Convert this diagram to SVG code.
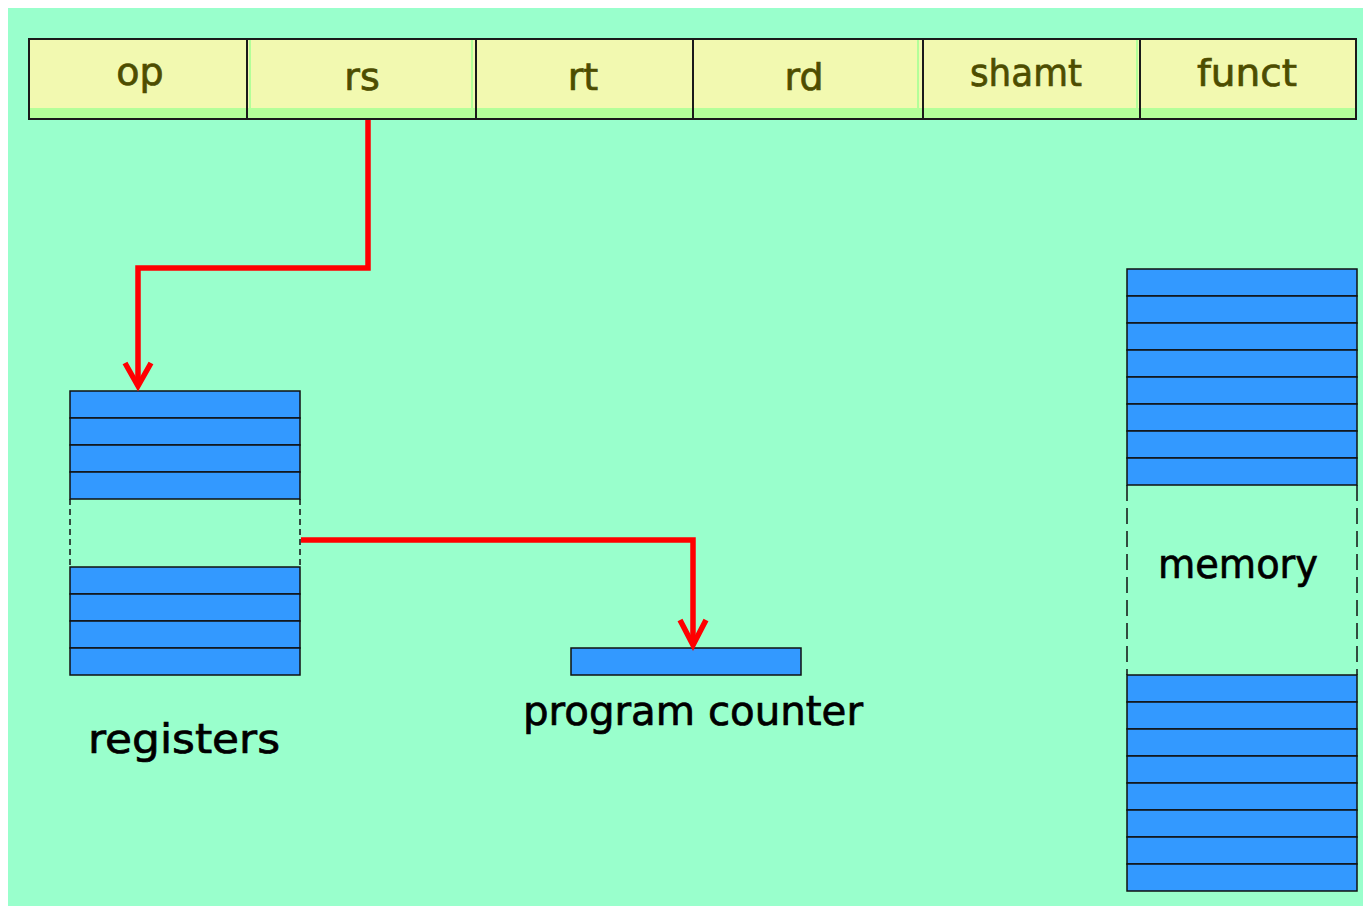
<svg xmlns="http://www.w3.org/2000/svg" width="1363" height="907" viewBox="0 0 1363 907">
<style>
.cell{fill:#F2F9B0;stroke:none}
.band{fill:#B3FF99;stroke:none}
.edge{fill:none;stroke:#1a1a1a;stroke-width:2}
.ftxt{font-family:"DejaVu Sans","Liberation Sans",sans-serif;font-size:38px;fill:#4D4D00;stroke:#4D4D00;stroke-width:0.7}
.mid{text-anchor:middle}
.lbl{font-family:"DejaVu Sans","Liberation Sans",sans-serif;font-size:40px;fill:#000;stroke:#000;stroke-width:0.7}
.reg{fill:#3399FF;stroke:#111;stroke-width:1.5}
.dash{fill:none;stroke:#111;stroke-width:1.5;stroke-dasharray:6 4}
.dashm{fill:none;stroke:#111;stroke-width:1.5;stroke-dasharray:16 7}
.wire{fill:none;stroke:#FF0000;stroke-width:5.5;stroke-linejoin:miter}
</style>
<rect x="0" y="0" width="1363" height="907" fill="#FFFFFF"/>
<rect x="8" y="8" width="1355" height="898" fill="#99FFCC"/>

<g id="fields">
  <g id="field-op">
    <rect class="cell" x="29" y="39" width="218" height="80"/>
    <rect class="band" x="29" y="108" width="218" height="11"/>
    <text class="ftxt mid" x="140" y="85">op</text>
  </g>
  <g id="field-rs">
    <rect class="cell" x="247" y="39" width="229" height="80"/>
    <rect class="band" x="247" y="108" width="229" height="11"/>
    <line x1="250" y1="40" x2="250" y2="108" stroke="#B3FF99" stroke-width="2"/>
    <line x1="472" y1="40" x2="472" y2="108" stroke="#B3FF99" stroke-width="2"/>
    <text class="ftxt mid" x="362" y="90">rs</text>
  </g>
  <g id="field-rt">
    <rect class="cell" x="476" y="39" width="217" height="80"/>
    <rect class="band" x="476" y="108" width="217" height="11"/>
    <text class="ftxt mid" x="583" y="90">rt</text>
  </g>
  <g id="field-rd">
    <rect class="cell" x="693" y="39" width="230" height="80"/>
    <rect class="band" x="693" y="108" width="230" height="11"/>
    <line x1="918" y1="40" x2="918" y2="108" stroke="#B3FF99" stroke-width="2"/>
    <text class="ftxt mid" x="804" y="90">rd</text>
  </g>
  <g id="field-shamt">
    <rect class="cell" x="923" y="39" width="217" height="80"/>
    <rect class="band" x="923" y="108" width="217" height="11"/>
    <line x1="1137" y1="40" x2="1137" y2="108" stroke="#B3FF99" stroke-width="2"/>
    <text class="ftxt" x="970" y="86" textLength="112" lengthAdjust="spacingAndGlyphs">shamt</text>
  </g>
  <g id="field-funct">
    <rect class="cell" x="1140" y="39" width="216" height="80"/>
    <rect class="band" x="1140" y="108" width="216" height="11"/>
    <text class="ftxt" x="1197" y="86" textLength="100" lengthAdjust="spacingAndGlyphs">funct</text>
  </g>
  <rect class="edge" x="29" y="39" width="1327" height="80"/>
  <line class="edge" x1="247" y1="39" x2="247" y2="119"/>
  <line class="edge" x1="476" y1="39" x2="476" y2="119"/>
  <line class="edge" x1="693" y1="39" x2="693" y2="119"/>
  <line class="edge" x1="923" y1="39" x2="923" y2="119"/>
  <line class="edge" x1="1140" y1="39" x2="1140" y2="119"/>
</g>

<g id="registers">
  <rect class="reg" x="70" y="391" width="230" height="27"/>
  <rect class="reg" x="70" y="418" width="230" height="27"/>
  <rect class="reg" x="70" y="445" width="230" height="27"/>
  <rect class="reg" x="70" y="472" width="230" height="27"/>
  <line class="dash" x1="70" y1="499" x2="70" y2="567"/>
  <line class="dash" x1="300" y1="499" x2="300" y2="567"/>
  <rect class="reg" x="70" y="567" width="230" height="27"/>
  <rect class="reg" x="70" y="594" width="230" height="27"/>
  <rect class="reg" x="70" y="621" width="230" height="27"/>
  <rect class="reg" x="70" y="648" width="230" height="27"/>
  <text class="lbl" x="88" y="753" textLength="192" lengthAdjust="spacingAndGlyphs">registers</text>
</g>

<g id="program-counter">
  <rect class="reg" x="571" y="648" width="230" height="27"/>
  <text class="lbl" x="523" y="725" textLength="340" lengthAdjust="spacingAndGlyphs">program counter</text>
</g>

<g id="memory">
  <rect class="reg" x="1127" y="269" width="230" height="27"/>
  <rect class="reg" x="1127" y="296" width="230" height="27"/>
  <rect class="reg" x="1127" y="323" width="230" height="27"/>
  <rect class="reg" x="1127" y="350" width="230" height="27"/>
  <rect class="reg" x="1127" y="377" width="230" height="27"/>
  <rect class="reg" x="1127" y="404" width="230" height="27"/>
  <rect class="reg" x="1127" y="431" width="230" height="27"/>
  <rect class="reg" x="1127" y="458" width="230" height="27"/>
  <line class="dashm" x1="1127" y1="485" x2="1127" y2="675"/>
  <line class="dashm" x1="1357" y1="485" x2="1357" y2="675"/>
  <rect class="reg" x="1127" y="675" width="230" height="27"/>
  <rect class="reg" x="1127" y="702" width="230" height="27"/>
  <rect class="reg" x="1127" y="729" width="230" height="27"/>
  <rect class="reg" x="1127" y="756" width="230" height="27"/>
  <rect class="reg" x="1127" y="783" width="230" height="27"/>
  <rect class="reg" x="1127" y="810" width="230" height="27"/>
  <rect class="reg" x="1127" y="837" width="230" height="27"/>
  <rect class="reg" x="1127" y="864" width="230" height="27"/>
  <text class="lbl" x="1158" y="578" textLength="160" lengthAdjust="spacingAndGlyphs">memory</text>
</g>

<g id="connectors">
  <polyline class="wire" points="368,120 368,268 138,268 138,386"/>
  <polyline class="wire" points="125,363 138,386 151,363"/>
  <polyline class="wire" points="301,540 693,540 693,645"/>
  <polyline class="wire" points="680,620 693,645 706,620"/>
</g>
</svg>
